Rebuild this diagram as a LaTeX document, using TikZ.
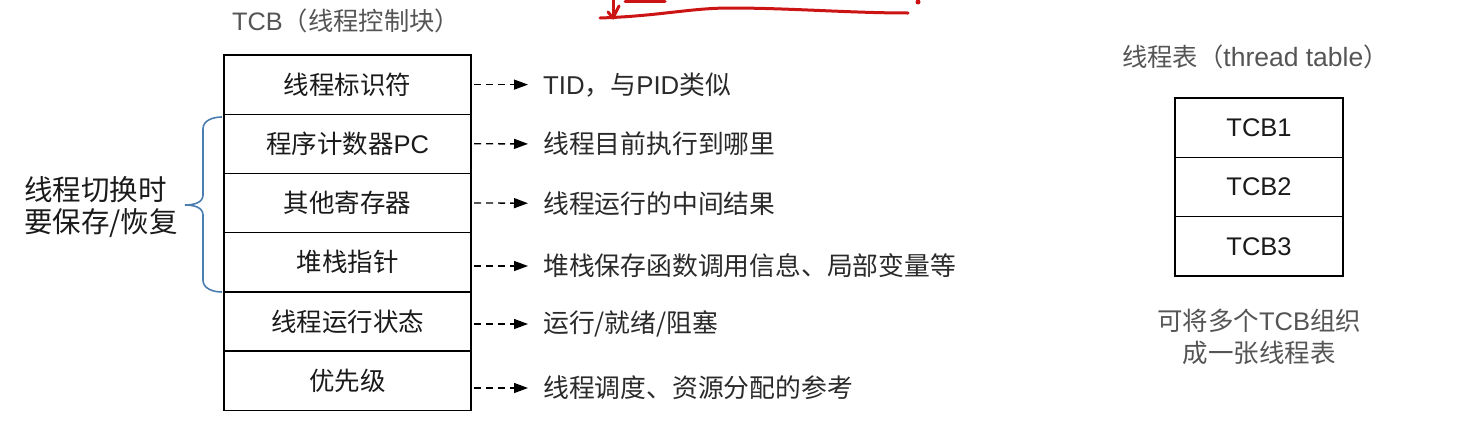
\documentclass[tikz,border=0pt]{standalone}
\usepackage{fontspec}
\setmainfont{Noto Sans CJK SC}
\newfontfamily\lat{Liberation Sans}
\usetikzlibrary{arrows.meta}
\definecolor{txt}{HTML}{1A1A1A}
\definecolor{lbl}{HTML}{2A2A2A}
\definecolor{ttl}{HTML}{555555}
\definecolor{brc}{HTML}{4A7DB0}
\definecolor{scr}{HTML}{CC1414}
\tikzset{
  cell/.style={draw=black, line width=1.4pt, minimum width=247pt, minimum height=59.2pt, inner sep=0pt, outer sep=0pt,
    text=txt, font=\fontsize{25.5}{30}\selectfont},
  tcell/.style={draw=black, line width=1.4pt, minimum width=168pt, minimum height=59.3pt, inner sep=0pt, outer sep=0pt,
    text=txt, font=\fontsize{25.5}{29}\selectfont},
  lbl/.style={anchor=west, inner sep=0pt, text=lbl, font=\fontsize{25.8}{30}\selectfont},
  ttl/.style={inner sep=0pt, text=ttl, font=\fontsize{25.3}{28}\selectfont},
  darr/.style={line width=1.3pt, dash pattern=on 7pt off 5pt, -{Triangle[length=14pt,width=10pt]}},
  scribble/.style={draw=scr, line width=3pt, line cap=round, line join=round}
}
\begin{document}
\begin{tikzpicture}[x=1pt,y=-1pt]
\useasboundingbox[fill=white] (0,0) rectangle (1478,426);
% red scribble
\draw[scribble] (613,0) -- (613,18);
\draw[scribble] (608,12) -- (613,18) -- (619,6);
\draw[scribble] (600,18) .. controls (660,16) and (690,8) .. (730,8) .. controls (790,8) and (850,13) .. (908,13);
\draw[scribble] (625,1) -- (665,1);
\fill[scr] (918,2) circle (2.5);
% title
\node[ttl, anchor=west] (title) at (232,21) {{\lat TCB}（线程控制块）};
% TCB stack
\node[cell] (r1) at (347.5,84.6) {线程标识符};
\node[cell, anchor=north] (r2) at (r1.south) {程序计数器{\lat PC}};
\node[cell, anchor=north] (r3) at (r2.south) {其他寄存器};
\node[cell, anchor=north] (r4) at (r3.south) {堆栈指针};
\node[cell, anchor=north] (r5) at (r4.south) {线程运行状态};
\node[cell, anchor=north] (r6) at (r5.south) {优先级};
% labels
\node[lbl] (l1) at (543,84.6) {{\lat TID}，与{\lat PID}类似};
\node[lbl] (l2) at (543,143.9) {线程目前执行到哪里};
\node[lbl] (l3) at (543,203.2) {线程运行的中间结果};
\node[lbl] (l4) at (543,266) {堆栈保存函数调用信息、局部变量等};
\node[lbl] (l5) at (543,324) {运行/就绪/阻塞};
\node[lbl] (l6) at (543,388) {线程调度、资源分配的参考};
\draw[darr] ([xshift=3pt]r1.east) -- ([xshift=-15pt]l1.west);
\draw[darr] ([xshift=3pt]r2.east) -- ([xshift=-15pt]l2.west);
\draw[darr] ([xshift=3pt]r3.east) -- ([xshift=-15pt]l3.west);
\draw[darr] ([xshift=3pt]r4.east|-l4.west) -- ([xshift=-15pt]l4.west);
\draw[darr] ([xshift=3pt]r5.east|-l5.west) -- ([xshift=-15pt]l5.west);
\draw[darr] ([xshift=3pt]r6.east|-l6.west) -- ([xshift=-15pt]l6.west);
% brace
\draw[brc, line width=1.6pt] (222,117) to[out=180,in=90] (203,129) -- (203,195)
  to[out=-90,in=0] (185,205) to[out=0,in=90] (203,215) -- (203,280) to[out=-90,in=180] (222,292);
\node[inner sep=0pt, text=txt, font=\fontsize{28.5}{32}\selectfont, align=left, anchor=west] (sv) at (24,207)
  {线程切换时\\要保存/恢复};
% thread table
\node[ttl, anchor=west] (ttitle) at (1122,57) {线程表（{\lat\fontsize{26.5}{28}\selectfont thread table}）};
\node[tcell] (t1) at (1259,127.7) {\lat TCB1};
\node[tcell, anchor=north] (t2) at (t1.south) {\lat TCB2};
\node[tcell, anchor=north] (t3) at (t2.south) {\lat TCB3};
\node[ttl, align=center, font=\fontsize{25.5}{32}\selectfont] (cap) at (1259,337) {可将多个{\lat TCB}组织\\成一张线程表};
\end{tikzpicture}
\end{document}
